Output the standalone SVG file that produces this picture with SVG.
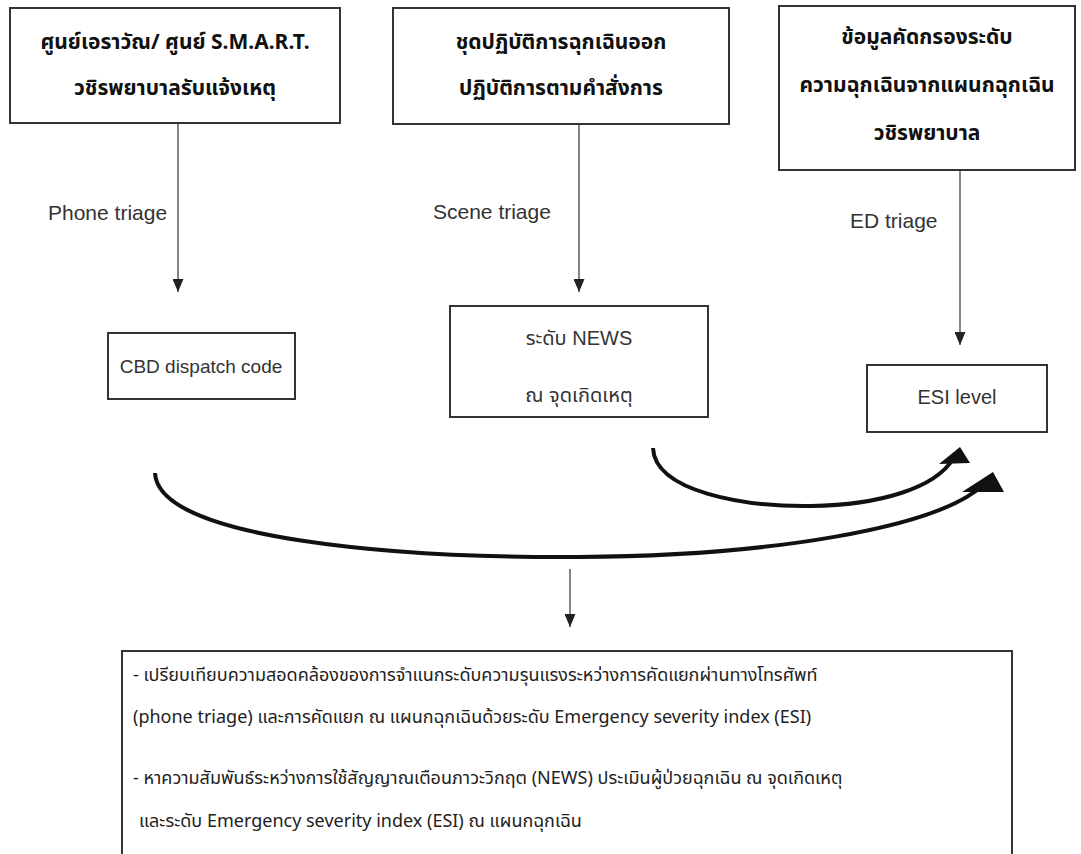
<svg xmlns="http://www.w3.org/2000/svg" width="1081" height="854" viewBox="0 0 1081 854">
<style>
.box{fill:#fff;stroke:#333;stroke-width:2}
.hd{font-family:"Noto Sans","Noto Sans Thai","Liberation Sans",sans-serif;font-weight:bold;font-size:21px;fill:#111;text-anchor:middle}
.lb{font-family:"Liberation Sans",Arial,sans-serif;font-size:21px;fill:#333}
.nd{font-family:"Liberation Sans","Noto Sans Thai",sans-serif;font-size:20px;fill:#333;text-anchor:middle}
.bt{font-family:"Noto Sans","Noto Sans Thai","Liberation Sans",sans-serif;font-size:18px;fill:#222}
.ln{stroke:#333;stroke-width:1.2;fill:none}
.cv{stroke:#111;stroke-width:4;fill:none}
</style>
<defs>
<marker id="ah" markerWidth="13" markerHeight="11" refX="13" refY="5.5" orient="auto" markerUnits="userSpaceOnUse" viewBox="0 0 13 11">
<path d="M0,0 L13,5.5 L0,11 Z" fill="#222"/>
</marker>
</defs>
<g id="node-erawan">
<rect class="box" x="10" y="8" width="330" height="115"/>
<text class="hd" x="175" y="49">ศูนย์เอราวัณ/ ศูนย์ S.M.A.R.T.</text>
<text class="hd" x="175" y="95">วชิรพยาบาลรับแจ้งเหตุ</text>
</g>
<g id="node-team">
<rect class="box" x="393" y="8" width="336" height="116"/>
<text class="hd" x="561" y="49">ชุดปฏิบัติการฉุกเฉินออก</text>
<text class="hd" x="561" y="95">ปฏิบัติการตามคำสั่งการ</text>
</g>
<g id="node-ed">
<rect class="box" x="779" y="6" width="296" height="164"/>
<text class="hd" x="927" y="44">ข้อมูลคัดกรองระดับ</text>
<text class="hd" x="927" y="92">ความฉุกเฉินจากแผนกฉุกเฉิน</text>
<text class="hd" x="927" y="140">วชิรพยาบาล</text>
</g>
<g id="node-cbd">
<rect class="box" x="108" y="333" width="187" height="66"/>
<text class="nd" x="201" y="373" style="font-size:19px">CBD dispatch code</text>
</g>
<g id="node-news">
<rect class="box" x="450" y="306" width="258" height="111"/>
<text class="nd" x="579" y="345">ระดับ NEWS</text>
<text class="nd" x="579" y="402">ณ จุดเกิดเหตุ</text>
</g>
<g id="node-esi">
<rect class="box" x="867" y="365" width="180" height="67"/>
<text class="nd" x="957" y="404">ESI level</text>
</g>
<g id="node-result">
<rect class="box" x="122" y="651" width="890" height="210"/>
<text class="bt" x="133" y="681">- เปรียบเทียบความสอดคล้องของการจำแนกระดับความรุนแรงระหว่างการคัดแยกผ่านทางโทรศัพท์</text>
<text class="bt" x="133" y="723">(phone triage) และการคัดแยก ณ แผนกฉุกเฉินด้วยระดับ Emergency severity index (ESI)</text>
<text class="bt" x="133" y="784">- หาความสัมพันธ์ระหว่างการใช้สัญญาณเตือนภาวะวิกฤต (NEWS) ประเมินผู้ป่วยฉุกเฉิน ณ จุดเกิดเหตุ</text>
<text class="bt" x="139" y="827">และระดับ Emergency severity index (ESI) ณ แผนกฉุกเฉิน</text>
</g>
<g id="connectors">
<line class="ln" x1="178" y1="124" x2="178" y2="292" marker-end="url(#ah)"/>
<line class="ln" x1="579" y1="125" x2="579" y2="292" marker-end="url(#ah)"/>
<line class="ln" x1="960" y1="171" x2="960" y2="345" marker-end="url(#ah)"/>
<line class="ln" x1="570" y1="569" x2="570" y2="627" marker-end="url(#ah)"/>
<path class="cv" d="M155,473 C158,540 400,558 578,557 C770,556 935,528 982,486"/>
<polygon points="993,472 962,492 1004,492" fill="#111"/>
<path class="cv" d="M653,448 C655,492 745,507 811,506 C880,505 935,488 953,459"/>
<polygon points="960,447 939,464 970,463" fill="#111"/>
<text class="lb" x="48" y="220">Phone triage</text>
<text class="lb" x="433" y="219">Scene triage</text>
<text class="lb" x="850" y="228">ED triage</text>
</g>
</svg>
